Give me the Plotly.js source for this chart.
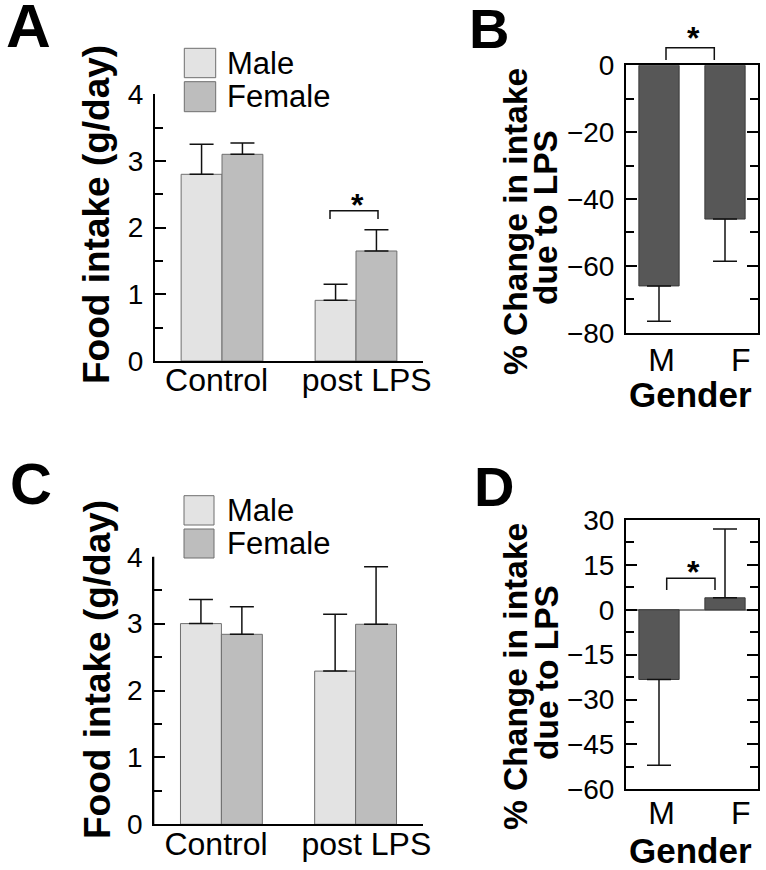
<!DOCTYPE html>
<html>
<head>
<meta charset="utf-8">
<script src="https://cdn.plot.ly/plotly-3.0.1.min.js"></script>
<style>
  html, body { margin: 0; padding: 0; background: #fff; }
</style>
</head>
<body>
<div id="graph" style="width:766px;height:870px"></div>
<script>
// panels A and C: food intake (g/day)
const groups = ["Control", "post LPS"];
const maleA = [2.8, 0.91];
const maleAErr = [0.45, 0.24];
const femaleA = [3.1, 1.65];
const femaleAErr = [0.17, 0.32];
const maleC = [3.0, 2.29];
const maleCErr = [0.36, 0.85];
const femaleC = [2.84, 2.99];
const femaleCErr = [0.41, 0.86];

// panels B and D: % change in intake due to LPS
const genders = ["M", "F"];
const changeB = [-66, -46];
const changeBErr = [10.6, 12.6];
const changeD = [-23.3, 4];
const changeDErr = [28.7, 23];

const W = 766, H = 870;
const px = (x) => x / W;
const py = (y) => 1 - y / H;

const FONT = "Liberation Sans, Arial, Helvetica, sans-serif";
const MALE_COLOR = "#e3e3e3";
const FEMALE_COLOR = "#bdbdbd";
const CHANGE_COLOR = "#575757";

// one-sided error bars, pointing away from zero
function errBar(vals, errs) {
  return {
    type: "data",
    symmetric: false,
    array: vals.map((v, i) => (v >= 0 ? errs[i] : 0)),
    arrayminus: vals.map((v, i) => (v < 0 ? errs[i] : 0)),
    color: "#111",
    thickness: 1.5,
    width: 12
  };
}

function intakeBar(vals, errs, name, color, xa, ya) {
  return {
    type: "bar",
    x: groups,
    y: vals,
    name: name,
    xaxis: xa,
    yaxis: ya,
    marker: { color: color, line: { color: "#6e6e6e", width: 1 } },
    error_y: errBar(vals, errs)
  };
}

function changeBar(vals, errs, xa, ya) {
  return {
    type: "bar",
    x: genders,
    y: vals,
    xaxis: xa,
    yaxis: ya,
    marker: { color: CHANGE_COLOR, line: { color: "#3a3a3a", width: 1 } },
    error_y: errBar(vals, errs)
  };
}

const data = [
  intakeBar(maleA, maleAErr, "Male", MALE_COLOR, "x", "y"),
  intakeBar(femaleA, femaleAErr, "Female", FEMALE_COLOR, "x", "y"),
  changeBar(changeB, changeBErr, "x2", "y2"),
  intakeBar(maleC, maleCErr, "Male", MALE_COLOR, "x3", "y3"),
  intakeBar(femaleC, femaleCErr, "Female", FEMALE_COLOR, "x3", "y3"),
  changeBar(changeD, changeDErr, "x4", "y4")
];

const tickFont = { family: FONT, size: 28, color: "#000" };
const catFont = { family: FONT, size: 32, color: "#000" };

// category labels sit a little off the bar centres in the original figure
function catAxis(x0, x1, anchor, mirror, standoff, cats, shifts) {
  return {
    domain: [px(x0), px(x1)],
    anchor: anchor,
    range: [-0.5, 1.5],
    showline: true,
    linewidth: 2,
    linecolor: "#000",
    mirror: mirror,
    ticks: "",
    tickmode: "array",
    tickvals: cats.map((c, i) => i + shifts[i]),
    ticktext: cats,
    showgrid: false,
    zeroline: false,
    tickfont: catFont,
    ticklabelstandoff: standoff,
    fixedrange: true
  };
}

function valAxis(y0, y1, anchor, range, step, mirror) {
  return {
    domain: [py(y1), py(y0)],
    anchor: anchor,
    range: range,
    dtick: step,
    tick0: 0,
    ticks: "inside",
    ticklen: 11,
    tickwidth: 2,
    tickcolor: "#000",
    minor: { dtick: step / 2, ticks: "inside", ticklen: 8, tickwidth: 2, tickcolor: "#000" },
    showline: true,
    linewidth: 2,
    linecolor: "#000",
    mirror: mirror,
    showgrid: false,
    zeroline: false,
    tickfont: tickFont,
    ticklabelstandoff: 4,
    fixedrange: true
  };
}

const yaxis4 = valAxis(520, 789.3, "x4", [-60, 30], 15, "allticks");
yaxis4.zeroline = true;
yaxis4.zerolinecolor = "#8a8a8a";
yaxis4.zerolinewidth = 1.5;

function label(text, x, y, size, bold, angle, xanchor) {
  return {
    xref: "paper",
    yref: "paper",
    x: px(x),
    y: py(y),
    text: text,
    showarrow: false,
    textangle: angle || 0,
    xanchor: xanchor || "center",
    yanchor: "middle",
    font: { family: FONT, size: size, color: "#000", weight: bold ? 700 : 400 }
  };
}

function box(x0, y0, x1, y1, color) {
  return {
    type: "rect",
    xref: "paper",
    yref: "paper",
    x0: px(x0), x1: px(x1), y0: py(y0), y1: py(y1),
    fillcolor: color,
    line: { color: "#6e6e6e", width: 1 }
  };
}

function bracket(x0, x1, top, bottom) {
  return {
    type: "path",
    xref: "paper",
    yref: "paper",
    path: "M" + px(x0) + "," + py(bottom) + " L" + px(x0) + "," + py(top) +
          " L" + px(x1) + "," + py(top) + " L" + px(x1) + "," + py(bottom),
    line: { color: "#111", width: 1.5 }
  };
}

// left axis line of the open panels, laid over the axis' own line
function axisLine(x, top, bottom) {
  return {
    type: "line",
    xref: "paper",
    yref: "paper",
    x0: px(x), x1: px(x), y0: py(bottom), y1: py(top),
    line: { color: "#000", width: 2 }
  };
}

const annotations = [
  label("A", 28.5, 25, 62, true),
  label("B", 489, 29, 56, true),
  label("C", 31.5, 483, 58, true),
  label("D", 494, 486, 56, true),
  // y titles
  label("Food intake (g/day)", 97, 215, 37, true, -90),
  label("Food intake (g/day)", 97, 670, 37, true, -90),
  label("% Change in intake", 515, 222, 33.5, true, -90),
  label("due to LPS", 546, 218, 33.5, true, -90),
  label("% Change in intake", 515, 677, 33.5, true, -90),
  label("due to LPS", 546, 673, 33.5, true, -90),
  label("Gender", 690.5, 394, 35, true),
  label("Gender", 690.5, 850, 35, true),
  // legends
  label("Male", 225, 63, 31, false, 0, "left"),
  label("Female", 225, 96.7, 31, false, 0, "left"),
  label("Male", 225, 510.5, 31, false, 0, "left"),
  label("Female", 225, 543.5, 31, false, 0, "left"),
  // significance stars
  label("*", 357, 205, 32, true),
  label("*", 693, 38, 32, true),
  label("*", 693, 572, 32, true)
];

const shapes = [
  axisLine(154, 94.3, 362),
  axisLine(153.3, 556.7, 825.3),
  box(184.3, 48.3, 215.7, 77.7, MALE_COLOR),
  box(184.3, 81.7, 215.7, 111.7, FEMALE_COLOR),
  box(184, 495.7, 214, 525, MALE_COLOR),
  box(184, 529, 214, 558, FEMALE_COLOR),
  bracket(330, 378, 210.7, 219),
  bracket(666, 714.3, 47.7, 60),
  bracket(666.7, 715, 578.3, 590)
];

const groupShift = [-0.04, 0.08];
const genderShift = [0.04, 0.24];

const layout = {
  width: W,
  height: H,
  margin: { l: 0, r: 0, t: 0, b: 0 },
  paper_bgcolor: "#fff",
  plot_bgcolor: "rgba(0,0,0,0)",
  font: { family: FONT, color: "#000" },
  showlegend: false,
  barmode: "group",
  bargap: 0.39,
  bargroupgap: 0,
  dragmode: false,
  xaxis: catAxis(155, 423, "y", false, -10, groups, groupShift),
  yaxis: valAxis(94.3, 361, "x", [0, 4], 1, false),
  xaxis2: catAxis(626, 758, "y2", true, -2, genders, genderShift),
  yaxis2: valAxis(65.3, 332.7, "x2", [-80, 0], 20, "allticks"),
  xaxis3: catAxis(154.3, 422.7, "y3", false, -10, groups, groupShift),
  yaxis3: valAxis(556.7, 824.3, "x3", [0, 4], 1, false),
  xaxis4: catAxis(626, 758, "y4", true, -6, genders, genderShift),
  yaxis4: yaxis4,
  annotations: annotations,
  shapes: shapes
};

Plotly.newPlot("graph", data, layout, { displayModeBar: false, staticPlot: true });
</script>
</body>
</html>
